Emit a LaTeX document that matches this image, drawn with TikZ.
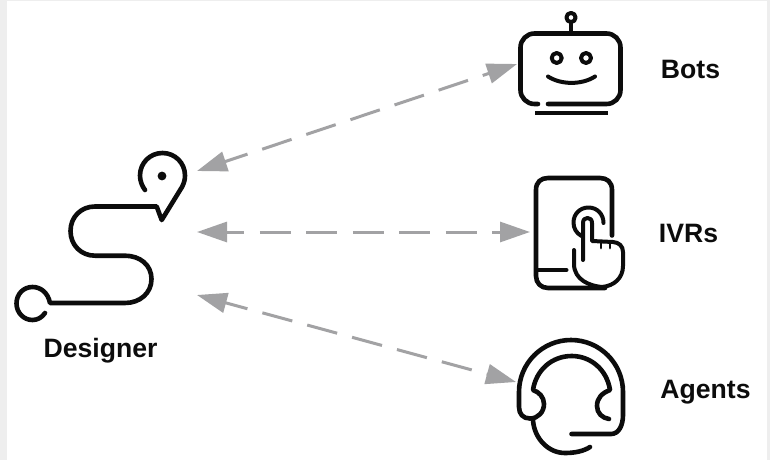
\documentclass[tikz,border=0pt]{standalone}
\usepackage{fontspec}
\setmainfont{Liberation Sans}
\definecolor{arrowgray}{HTML}{A2A2A4}
\definecolor{framegray}{HTML}{EEEEEE}
\definecolor{ink}{HTML}{0C0C0C}
\usetikzlibrary{arrows.meta}
\tikzset{
  icon/.style={draw=ink,line width=4.6pt,line cap=round,line join=round},
  thinicon/.style={draw=ink,line width=4pt,line cap=round,line join=round},
  label/.style={font=\fontsize{26.6}{29}\selectfont\bfseries,text=ink,inner sep=0pt},
  link/.style={draw=arrowgray,line width=3pt,dash pattern=on 31pt off 15.5pt,
    {Triangle[length=30pt,width=20pt,fill=arrowgray]}-{Triangle[length=30pt,width=20pt,fill=arrowgray]},shorten <=0pt,shorten >=0pt}
}
\begin{document}
\begin{tikzpicture}[x=1pt,y=-1pt]
\useasboundingbox (0,0) rectangle (770,460);
\fill[framegray] (0,0) rectangle (770,460);
\fill[white] (7,1.5) rectangle (767,460);

% named ports
\coordinate (designerTop) at (197,171);
\coordinate (designerMid) at (197,232);
\coordinate (designerLow) at (197,295);
\coordinate (botsPort) at (517,64);
\coordinate (ivrsPort) at (530,232);
\coordinate (agentsPort) at (516,382);

% connectors
\draw[link,dash phase=7pt] (designerTop) -- (botsPort);
\draw[link,dash phase=13pt] (designerMid) -- (ivrsPort);
\draw[link,dash phase=8pt] (designerLow) -- (agentsPort);

% Designer icon
\draw[icon] (145,190) .. controls (142,186) and (140,181) .. (140,175.5)
  .. controls (140,163) and (150,153) .. (162.5,153)
  .. controls (175,153) and (185,163) .. (185,175.5)
  .. controls (185,180) and (184,183) .. (182,187)
  -- (161.7,220) -- (156.7,206.5) -- (95,206.5)
  .. controls (81,206.5) and (70.5,217) .. (70.5,231)
  .. controls (70.5,245) and (81,255.7) .. (95,255.7)
  -- (125,255.7)
  .. controls (140,255.7) and (151.5,265) .. (151.5,279)
  .. controls (151.5,293) and (140,303) .. (125,303)
  -- (50,303)
  .. controls (48,293) and (41,287) .. (32.5,287)
  .. controls (23.5,287) and (16.5,294) .. (16.5,303.5)
  .. controls (16.5,312.5) and (23.5,320) .. (32.5,320)
  .. controls (37.5,320) and (42,317.5) .. (45,313);
\fill[ink] (162,176) circle (4.4);
\node[label] (designer) at (100.5,351) {Designer};

% Bots icon
\draw[icon,rounded corners=14pt] (538,104) -- (520.5,104) -- (520.5,33.5) -- (620.5,33.5) -- (620.5,104) -- (548,104);
\draw[icon,line cap=butt] (535,113) -- (608,113);
\draw[thinicon] (556.7,58) circle (5) (586,58) circle (5);
\draw[thinicon] (571,17.5) circle (4.6);
\draw[thinicon] (571,22) -- (571,33);
\draw[thinicon] (548,76.5) .. controls (561,85) and (582,85) .. (595,76.5);
\node[label] (bots) at (690.5,69) {Bots};

% IVRs icon
\draw[icon] (612,235.5) -- (612,190) .. controls (612,182) and (607,178) .. (600,178)
  -- (548,178) .. controls (541,178) and (536,182) .. (536,190)
  -- (536,276) .. controls (536,283) and (541,288) .. (548,288) -- (605,288);
\draw[thinicon] (536,270) -- (566.5,270);
\draw[thinicon] (581.5,236) .. controls (576,233) and (573.5,228) .. (573.5,222.5)
  .. controls (573.5,214) and (580,207.5) .. (588.5,207.5)
  .. controls (597,207.5) and (603.5,214) .. (603.5,223);
\draw[thinicon] (583,260) -- (583,223) .. controls (583,219.5) and (585,218) .. (587.5,218)
  .. controls (590,218) and (592,219.5) .. (592,223) -- (592,241)
  -- (613,242) .. controls (619,242.5) and (623,246) .. (623,252)
  -- (623,266) .. controls (623,278) and (614,286) .. (602,287)
  .. controls (590,286) and (574,280) .. (574,264) -- (574,250);
\draw[thinicon,line width=2.8pt] (601,242) -- (601,248) (610,242) -- (610,248);
\node[label] (ivrs) at (688.5,233) {IVRs};

% Agents icon
\draw[icon] (571.5,434) -- (611,434) .. controls (619,434) and (623,425) .. (623,415)
  -- (623,392) .. controls (623,363.3) and (599.7,340) .. (571,340)
  .. controls (542.3,340) and (519,363.3) .. (519,392)
  -- (519,407) .. controls (519,414) and (523,418.5) .. (530,418.5)
  .. controls (538,418.5) and (544,412) .. (544,404)
  .. controls (544,397) and (539,392) .. (533,390)
  .. controls (536,370) and (552,356) .. (571.7,356)
  .. controls (591,356) and (607,370) .. (610,390)
  .. controls (602,393) and (597,398) .. (597,406)
  .. controls (597,413) and (602,418) .. (609,419);
\draw[icon] (533,420) .. controls (534,438) and (548,453) .. (565,453)
  .. controls (575,453) and (584,451) .. (590,447);
\node[label] (agents) at (705.5,392) {Agents};
\end{tikzpicture}
\end{document}
